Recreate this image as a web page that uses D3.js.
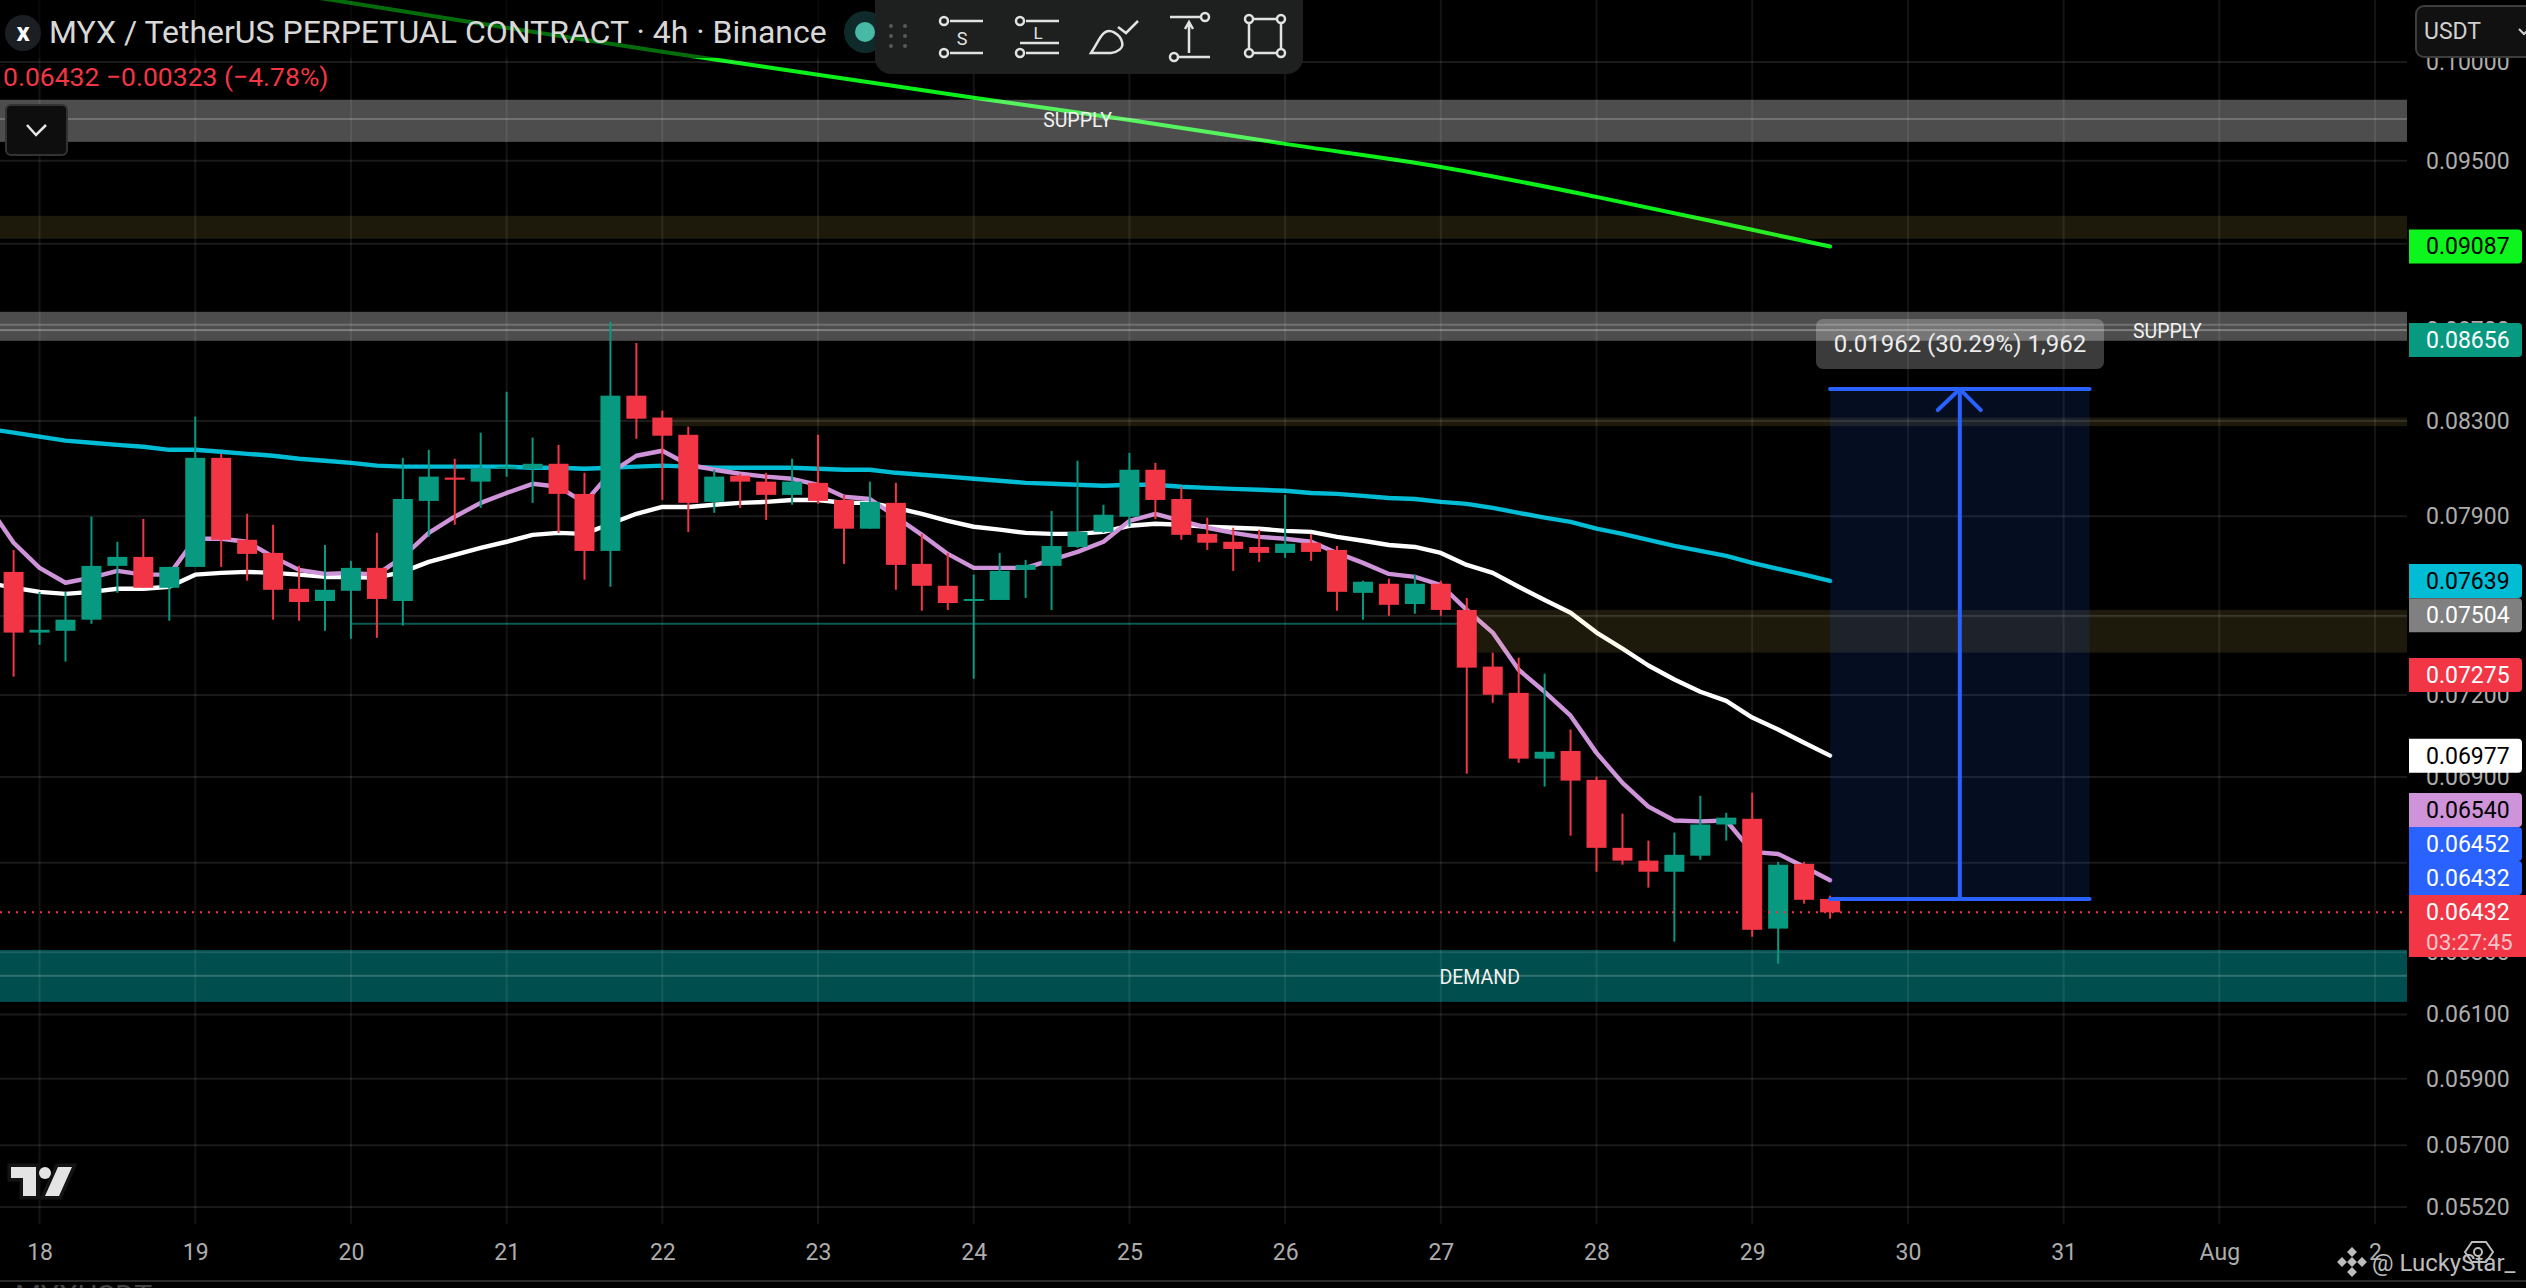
<!DOCTYPE html>
<html>
<head>
<meta charset="utf-8">
<script src="https://cdn.jsdelivr.net/npm/d3@7"></script>
<style>
  html, body { margin: 0; background: #000; overflow: hidden; }
  text { font-family: Roboto, sans-serif; }
  .domain { display: none; }
  .axis-price text, .axis-time text { font-size: 23px; fill: #adadad; font-family: Roboto, sans-serif; }
</style>
</head>
<body>
<svg id="chart" width="2526" height="1288"></svg>
<script>
// candles, 4h, left to right
const opens = [.07675,.07437,.07444,.07487,.07699,.07735,.07612,.07695,.08143,.07804,.07751,.07608,.07560,.07600,.07691,.07560,.07963,.08060,.08043,.08097,.08097,.08118,.07992,.07759,.08410,.08315,.08241,.07959,.08068,.08043,.07988,.08038,.07967,.07849,.07955,.07707,.07620,.07560,.07564,.07683,.07699,.07775,.07836,.07898,.08093,.07971,.07828,.07796,.07775,.07751,.07792,.07763,.07592,.07628,.07548,.07628,.07525,.07307,.07208,.06966,.06994,.06890,.06651,.06607,.06569,.06624,.06732,.06752,.06378,.06596,.06477];
const highs = [.07763,.07596,.07596,.07898,.07796,.07889,.07695,.08319,.08160,.07910,.07865,.07699,.07783,.07719,.07832,.08143,.08177,.08139,.08250,.08427,.08229,.08198,.08080,.08739,.08643,.08345,.08276,.08093,.08076,.08080,.08139,.08241,.07988,.08043,.08038,.07828,.07751,.07664,.07751,.07723,.07922,.08131,.07947,.08164,.08122,.08022,.07894,.07853,.07845,.07988,.07828,.07779,.07640,.07648,.07664,.07640,.07572,.07360,.07341,.07280,.07072,.06901,.06770,.06676,.06704,.06833,.06773,.06844,.06603,.06603,.06488];
const lows = [.07269,.07390,.07326,.07471,.07592,.07612,.07483,.07695,.07695,.07640,.07487,.07483,.07444,.07413,.07417,.07464,.07816,.07865,.07934,.08064,.07955,.07832,.07644,.07616,.08224,.07967,.07836,.07914,.07934,.07885,.07947,.07951,.07707,.07849,.07604,.07522,.07525,.07261,.07564,.07572,.07525,.07771,.07832,.07857,.07889,.07804,.07763,.07679,.07715,.07731,.07719,.07522,.07487,.07502,.07510,.07502,.06912,.07171,.06951,.06866,.06693,.06569,.06593,.06515,.06335,.06610,.06676,.06351,.06263,.06461,.06411];
const closes = [.07437,.07448,.07487,.07699,.07735,.07612,.07695,.08143,.07804,.07747,.07604,.07556,.07604,.07691,.07568,.07971,.08064,.08051,.08097,.08106,.08118,.07992,.07759,.08410,.08310,.08237,.07955,.08064,.08043,.07988,.08043,.07963,.07849,.07959,.07703,.07620,.07552,.07568,.07679,.07703,.07779,.07836,.07906,.08093,.07967,.07824,.07792,.07767,.07751,.07788,.07755,.07596,.07636,.07545,.07628,.07525,.07303,.07201,.06966,.06991,.06887,.06651,.06607,.06569,.06627,.06732,.06756,.06374,.06593,.06474,.06432];

// moving averages, first value sits one candle left of the first candle
const maFast = [.07947,.07792,.07691,.07632,.07652,.07679,.07664,.07664,.07808,.07808,.07796,.07735,.07683,.07667,.07671,.07664,.07735,.07832,.07898,.07955,.07996,.08034,.08022,.07955,.08080,.08152,.08173,.08114,.08093,.08076,.08064,.08055,.08030,.07980,.07971,.07898,.07824,.07747,.07691,.07691,.07691,.07723,.07755,.07796,.07881,.07910,.07881,.07853,.07832,.07816,.07808,.07796,.07751,.07711,.07667,.07655,.07623,.07525,.07437,.07295,.07212,.07123,.06987,.06879,.06795,.06746,.06743,.06746,.06637,.06630,.06586,.06540];
const maMid = [.07632,.07612,.07596,.07588,.07596,.07608,.07608,.07616,.07664,.07671,.07675,.07671,.07664,.07655,.07655,.07652,.07675,.07715,.07743,.07771,.07796,.07824,.07832,.07828,.07869,.07910,.07938,.07938,.07947,.07955,.07959,.07967,.07967,.07955,.07955,.07934,.07910,.07881,.07857,.07845,.07832,.07828,.07828,.07836,.07861,.07869,.07865,.07857,.07853,.07849,.07840,.07836,.07816,.07800,.07783,.07775,.07751,.07703,.07671,.07616,.07564,.07514,.07437,.07375,.07311,.07258,.07212,.07178,.07116,.07072,.07024,.06977];
const maSlow = [.08267,.08250,.08233,.08216,.08207,.08198,.08190,.08177,.08177,.08169,.08160,.08152,.08139,.08131,.08122,.08110,.08106,.08106,.08106,.08106,.08106,.08101,.08101,.08097,.08101,.08106,.08110,.08106,.08101,.08101,.08101,.08101,.08097,.08093,.08093,.08080,.08072,.08064,.08055,.08047,.08038,.08034,.08030,.08026,.08030,.08030,.08022,.08017,.08013,.08009,.08005,.07996,.07992,.07984,.07975,.07971,.07959,.07951,.07934,.07914,.07894,.07877,.07849,.07828,.07804,.07779,.07759,.07739,.07711,.07687,.07664,.07639];
// long ma read every day only
const maLongIdx = [10,12,19,25,31,37,43,49,55,61,67,70];
const maLong = [.10374,.10333,.10179,.10053,.09934,.09816,.09704,.09584,.09470,.09324,.09166,.09087];

// drawn zones
const zoneTops = [.09806,.09233,.08784,.08315,.07525,.06308];
const zoneBottoms = [.09594,.09123,.08653,.08278,.07360,.06140];
const zoneStarts = [0,0,0,25,56,0];
const zoneColors = ['supply','olive','supply','olive','olive','demand'];
const zoneMidlines = [.09709,.08725,.08702,.06224];
const zoneLabels = ['SUPPLY','SUPPLY','DEMAND'];
const zoneLabelPrices = [.09709,.08702,.06224];
const zoneLabelIdx = [41,83,56.5];

const priceTicks = [.1,.095,.091,.087,.083,.079,.075,.072,.069,.066,.063,.061,.059,.057,.0552];
const dayLabels = ['18','19','20','21','22','23','24','25','26','27','28','29','30','31','Aug','2'];

// price tags on the axis, top to bottom
const tagPrices = [.09087,.08656,.07639,.07504,.07275,.06977,.0654,.06452,.06432];
const tagFills = ['#0cf51c','#089981','#00bcd4','#808080','#f23645','#ffffff','#ce93d8','#2962ff','#2962ff'];
const tagInk = ['#000','#fff','#000','#fff','#fff','#000','#000','#fff','#fff'];
const lastPrice = .06432;

// long position tool
const toolEntry = .06477, toolTarget = .08439, toolFrom = 70, toolTo = 80, toolArrow = 75;

const svg = d3.select('#chart');
const plotRight = 2407, plotBottom = 1224;

const x = d3.scaleLinear().domain([0, 91]).range([13.6, 2375]);
const y = d3.scaleLog().domain([.0552, .1]).range([1207, 62]);

const red = '#f23645', green = '#089981', blue = '#2962ff';

// ---- averages go under the zones
const line = d3.line().x(d => x(d.i)).y(d => y(d.v));
const series = [
  { vals: maSlow, color: '#00bcd4' },
  { vals: maMid, color: '#ffffff' },
  { vals: maFast, color: '#ce93d8' }
];
series.forEach(s => {
  svg.append('path')
    .datum(s.vals.map((v, k) => ({ i: k - 1, v })))
    .attr('d', line)
    .attr('fill', 'none')
    .attr('stroke', s.color)
    .attr('stroke-width', 4.4)
    .attr('stroke-linejoin', 'round')
    .attr('stroke-linecap', 'round');
});
svg.append('path')
  .datum(maLong.map((v, k) => ({ i: maLongIdx[k], v })))
  .attr('d', line.curve(d3.curveMonotoneX))
  .attr('fill', 'none')
  .attr('stroke', '#0cf01a')
  .attr('stroke-width', 4)
  .attr('stroke-linecap', 'round');

// ---- zones
const zoneFill = { supply: 'rgba(255,255,255,0.3)', olive: 'rgba(255,220,100,0.115)', demand: '#014e4e' };
zoneTops.forEach((top, k) => {
  const left = zoneStarts[k] ? x(zoneStarts[k]) : 0;
  svg.append('rect')
    .attr('x', left)
    .attr('y', y(top))
    .attr('width', plotRight - left)
    .attr('height', y(zoneBottoms[k]) - y(top))
    .attr('fill', zoneFill[zoneColors[k]]);
});
svg.selectAll('.midline')
  .data(zoneMidlines)
  .enter().append('line')
    .attr('class', 'midline')
    .attr('x1', 0).attr('x2', plotRight)
    .attr('y1', d => y(d)).attr('y2', d => y(d))
    .attr('stroke', 'rgba(255,255,255,0.2)')
    .attr('stroke-width', 2);
svg.append('line')
  .attr('x1', 0).attr('x2', plotRight)
  .attr('y1', y(.07504)).attr('y2', y(.07504))
  .attr('stroke', 'rgba(255,255,255,0.08)').attr('stroke-width', 1);

// thin teal level
svg.append('line')
  .attr('x1', x(13)).attr('x2', x(56))
  .attr('y1', y(.07471)).attr('y2', y(.07471))
  .attr('stroke', '#0b5a55').attr('stroke-width', 2);

// ---- grid
const dayTicks = dayLabels.map((d, k) => 1 + k * 6);
svg.selectAll('.vgrid')
  .data(dayTicks)
  .enter().append('line')
    .attr('class', 'vgrid')
    .attr('x1', d => x(d)).attr('x2', d => x(d))
    .attr('y1', 0).attr('y2', plotBottom)
    .attr('stroke', 'rgba(255,255,255,0.08)')
    .attr('stroke-width', 2);
svg.selectAll('.hgrid')
  .data(priceTicks)
  .enter().append('line')
    .attr('class', 'hgrid')
    .attr('x1', 0).attr('x2', plotRight)
    .attr('y1', d => y(d)).attr('y2', d => y(d))
    .attr('stroke', 'rgba(255,255,255,0.1)')
    .attr('stroke-width', 2);

// ---- long position tool
svg.append('rect')
  .attr('x', x(toolFrom)).attr('y', y(toolTarget))
  .attr('width', x(toolTo) - x(toolFrom))
  .attr('height', y(toolEntry) - y(toolTarget))
  .attr('fill', 'rgba(41,98,255,0.13)');

// ---- candles
const candles = opens.map((o, i) => ({ i, o, h: highs[i], l: lows[i], c: closes[i] }));
const color = d => d.c >= d.o ? green : red;
svg.selectAll('.wick')
  .data(candles)
  .enter().append('line')
    .attr('class', 'wick')
    .attr('x1', d => x(d.i)).attr('x2', d => x(d.i))
    .attr('y1', d => y(d.h)).attr('y2', d => y(d.l))
    .attr('stroke', color)
    .attr('stroke-width', 2);
svg.selectAll('.body')
  .data(candles)
  .enter().append('rect')
    .attr('class', 'body')
    .attr('x', d => x(d.i) - 10)
    .attr('y', d => y(Math.max(d.o, d.c)))
    .attr('width', 20)
    .attr('height', d => Math.max(2, y(Math.min(d.o, d.c)) - y(Math.max(d.o, d.c))))
    .attr('fill', color);

// tool lines over the candles
const toolLine = (x1, y1, x2, y2) => svg.append('line')
  .attr('x1', x1).attr('y1', y1).attr('x2', x2).attr('y2', y2)
  .attr('stroke', blue).attr('stroke-width', 4).attr('stroke-linecap', 'round');
toolLine(x(toolFrom), y(toolTarget), x(toolTo), y(toolTarget));
toolLine(x(toolFrom), y(toolEntry), x(toolTo), y(toolEntry));
toolLine(x(toolArrow), y(toolTarget), x(toolArrow), y(toolEntry));
toolLine(x(toolArrow) - 22, y(toolTarget) + 21, x(toolArrow), y(toolTarget));
toolLine(x(toolArrow) + 21, y(toolTarget) + 21, x(toolArrow), y(toolTarget));

svg.append('rect')
  .attr('x', 1816).attr('y', 319).attr('width', 288).attr('height', 50).attr('rx', 7)
  .attr('fill', 'rgba(255,255,255,0.23)');
svg.append('text')
  .attr('x', 1960).attr('y', 352)
  .attr('text-anchor', 'middle')
  .attr('font-size', 24)
  .attr('fill', '#ececec')
  .text('0.01962 (30.29%) 1,962');

// zone captions
svg.selectAll('.zone-label')
  .data(zoneLabels)
  .enter().append('text')
    .attr('class', 'zone-label')
    .attr('x', (d, k) => x(zoneLabelIdx[k]))
    .attr('y', (d, k) => y(zoneLabelPrices[k]) + 8)
    .attr('text-anchor', 'middle')
    .attr('font-size', 19.5)
    .attr('fill', '#f2f2f2')
    .text(d => d);

// last price dots
svg.append('line')
  .attr('x1', 0).attr('x2', plotRight)
  .attr('y1', y(lastPrice)).attr('y2', y(lastPrice))
  .attr('stroke', red).attr('stroke-width', 2).attr('stroke-dasharray', '2 6');

// ---- axes
svg.append('g')
  .attr('class', 'axis-price')
  .attr('transform', 'translate(2426,0)')
  .call(d3.axisRight(y).tickValues(priceTicks).tickSize(0).tickPadding(0).tickFormat(d3.format('.5f')));

svg.append('g')
  .attr('class', 'axis-time')
  .attr('transform', 'translate(0,1244)')
  .call(d3.axisBottom(x).tickValues(dayTicks).tickSize(0).tickPadding(0).tickFormat((d, k) => dayLabels[k]));

// ---- price tags, stacked upward from the last price tag
const tagH = 34;
const tagGroup = svg.append('g');
let ceiling = 895;
const tagY = tagPrices.map(p => y(p)).reverse().map(c => {
  const centre = Math.min(c, ceiling - tagH / 2);
  ceiling = centre - tagH / 2;
  return centre;
}).reverse();
tagPrices.forEach((p, k) => {
  tagGroup.append('path')
    .attr('d', `M2409,${tagY[k] - tagH / 2}H2518a4,4 0 0 1 4,4V${tagY[k] + tagH / 2 - 4}a4,4 0 0 1 -4,4H2409Z`)
    .attr('fill', tagFills[k]);
  tagGroup.append('text')
    .attr('x', 2426).attr('y', tagY[k] + 8)
    .attr('font-size', 23)
    .attr('fill', tagInk[k])
    .text(d3.format('.5f')(p));
});
svg.append('rect').attr('x', 2409).attr('y', 895).attr('width', 117).attr('height', 62).attr('fill', red);
svg.append('text').attr('x', 2426).attr('y', y(lastPrice) + 8).attr('font-size', 23).attr('fill', '#fff').text(d3.format('.5f')(lastPrice));
svg.append('text').attr('x', 2426).attr('y', 950).attr('font-size', 22.5).attr('fill', '#fbc4c9').text('03:27:45');

// ---- currency box
svg.append('rect')
  .attr('x', 2416).attr('y', 6).attr('width', 130).attr('height', 51).attr('rx', 8)
  .attr('fill', '#111').attr('stroke', '#3d3d3d').attr('stroke-width', 2);
svg.append('text').attr('x', 2424).attr('y', 39).attr('font-size', 23).attr('fill', '#d0d0d0').text('USDT');
svg.append('path').attr('d', 'M2519,29l5,5l5,-5').attr('fill', 'none').attr('stroke', '#d0d0d0').attr('stroke-width', 2);

// ---- header
svg.append('rect').attr('x', 0).attr('y', 0).attr('width', 875).attr('height', 58).attr('fill', 'rgba(0,0,0,0.55)');
svg.append('circle').attr('cx', 23).attr('cy', 33).attr('r', 18).attr('fill', '#1b1f24');
svg.append('text').attr('x', 23).attr('y', 41).attr('text-anchor', 'middle').attr('font-size', 26).attr('font-weight', 700).attr('fill', '#fff').text('x');
svg.append('text').attr('x', 49).attr('y', 43).attr('font-size', 32).attr('fill', '#d8d8d8')
  .text('MYX / TetherUS PERPETUAL CONTRACT · 4h · Binance');
svg.append('text').attr('x', 3).attr('y', 86).attr('font-size', 26.5).attr('fill', red)
  .text('0.06432  −0.00323 (−4.78%)');

svg.append('circle').attr('cx', 865).attr('cy', 32).attr('r', 21).attr('fill', '#0f2a2a');
svg.append('circle').attr('cx', 865).attr('cy', 32).attr('r', 10).attr('fill', '#47b9a5');

// collapse button
svg.append('rect').attr('x', 6).attr('y', 105).attr('width', 61).attr('height', 50).attr('rx', 5)
  .attr('fill', '#0e0e0e').attr('stroke', '#333').attr('stroke-width', 2);
svg.append('path').attr('d', 'M27,125l9,10l10,-10').attr('fill', 'none').attr('stroke', '#e6e6e6').attr('stroke-width', 2.5);

// ---- drawing toolbar
svg.append('rect').attr('x', 875).attr('y', -20).attr('width', 428).attr('height', 94).attr('rx', 16).attr('fill', '#1e2020');
const bar = svg.append('g').attr('fill', 'none').attr('stroke', '#e2e2e2').attr('stroke-width', 2.5);
[[891, 26], [905, 26], [891, 36], [905, 36], [891, 46], [905, 46]].forEach(p => {
  svg.append('circle').attr('cx', p[0]).attr('cy', p[1]).attr('r', 2).attr('fill', '#585858');
});
const handle = (cx, cy) => bar.append('circle').attr('cx', cx).attr('cy', cy).attr('r', 4);
const stroke = d => bar.append('path').attr('d', d);
handle(944, 21); handle(944, 53);
stroke('M950,21H983M950,53H983');
handle(1020, 21); handle(1020, 53);
stroke('M1026,21H1059M1020,43H1059M1026,53H1059');
stroke('M1091,53C1097,44 1100,36 1104,33C1110,28 1120,34 1122,42C1124,48 1118,52 1111,53Z');
stroke('M1118,27L1126,33L1138,21');
handle(1205, 17); handle(1174, 57);
stroke('M1170,17H1201M1178,57H1210M1189,22V53M1185,29L1189,22L1193,29');
handle(1249, 19); handle(1281, 19); handle(1249, 53); handle(1281, 53);
stroke('M1253,19H1277M1253,53H1277M1249,23V49M1281,23V49');
svg.append('text').attr('x', 962).attr('y', 45).attr('text-anchor', 'middle').attr('font-size', 18).attr('fill', '#e2e2e2').text('S');
svg.append('text').attr('x', 1038).attr('y', 39).attr('text-anchor', 'middle').attr('font-size', 17).attr('fill', '#e2e2e2').text('L');

// ---- logo
svg.append('path')
  .attr('d', 'M11,1167H36V1196H23V1178H11ZM58,1167H72L59,1196H45Z')
  .attr('fill', '#e4e4e4').attr('stroke', '#141414').attr('stroke-width', 7).attr('paint-order', 'stroke');
svg.append('circle').attr('cx', 45).attr('cy', 1173).attr('r', 6).attr('fill', '#e4e4e4');

// ---- bottom strip and watermark
svg.append('line').attr('x1', 0).attr('x2', 2526).attr('y1', 1281).attr('y2', 1281).attr('stroke', '#2b2b2b').attr('stroke-width', 2);
svg.append('clipPath').attr('id', 'strip').append('rect').attr('x', 0).attr('y', 1283).attr('width', 400).attr('height', 5);
svg.append('text').attr('x', 15).attr('y', 1306).attr('font-size', 30).attr('fill', '#444').attr('clip-path', 'url(#strip)').text('MYXUSDT');

const mark = svg.append('g').attr('fill', '#bdbdbd');
[[0, -10], [-10, 0], [10, 0], [0, 10], [0, 0]].forEach(p => {
  mark.append('rect')
    .attr('x', -3.5).attr('y', -3.5).attr('width', 7).attr('height', 7)
    .attr('transform', `translate(${2352 + p[0]},${1262 + p[1]}) rotate(45)`);
});
mark.append('text').attr('x', 2372).attr('y', 1271).attr('font-size', 24).text('@ LuckyStar_');
svg.append('path').attr('d', 'M2465,1252l7,-10h14l7,10l-7,10h-14Z').attr('fill', 'none').attr('stroke', '#bdbdbd').attr('stroke-width', 2);
svg.append('circle').attr('cx', 2478).attr('cy', 1252).attr('r', 4).attr('fill', 'none').attr('stroke', '#bdbdbd').attr('stroke-width', 2);
</script>
</body>
</html>
